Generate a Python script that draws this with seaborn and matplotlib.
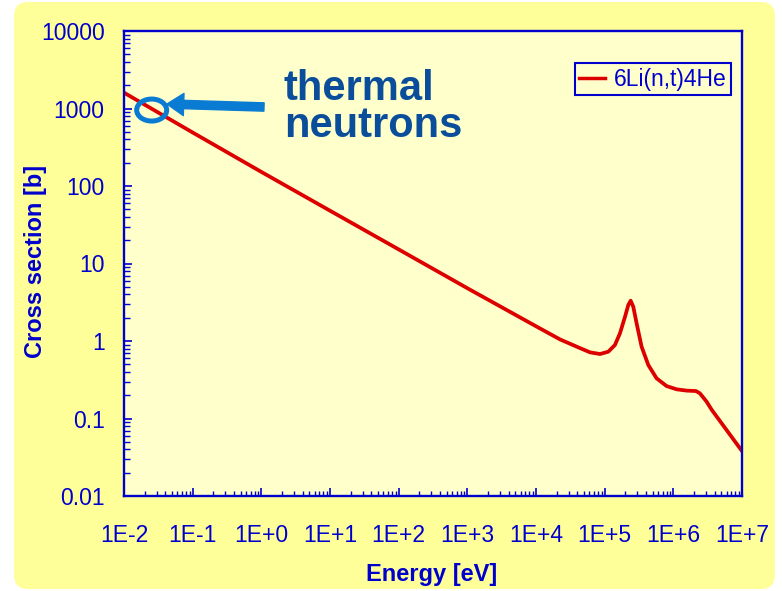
import numpy as np
import pandas as pd
import matplotlib
matplotlib.use("Agg")
import matplotlib.pyplot as plt
import matplotlib.transforms as mtransforms
from matplotlib.patches import FancyBboxPatch, Ellipse
from matplotlib.ticker import LogLocator, FixedLocator, FixedFormatter, NullFormatter
import seaborn as sns

# ---- data ----
energy_ev = [1e-2, 1e-1, 1e0, 1e1, 1e2, 1e3, 3e3, 1e4, 2.23e4, 3.91e4, 6.11e4, 8.55e4,
             1.13e5, 1.41e5, 1.67e5, 1.98e5, 2.21e5, 2.39e5, 2.61e5, 2.92e5, 3.45e5,
             4.32e5, 5.70e5, 7.98e5, 1.117e6, 1.563e6, 2.14e6, 2.44e6, 3.05e6, 3.61e6,
             5.96e6, 1.0e7]
cross_section_b = [1600, 490, 152, 48, 15.2, 4.8, 2.8, 1.55, 1.05, 0.845, 0.714, 0.679,
                   0.728, 0.887, 1.256, 2.06, 2.92, 3.31, 2.77, 1.69, 0.845,
                   0.49, 0.33, 0.262, 0.238, 0.229, 0.226, 0.211, 0.165, 0.13,
                   0.071, 0.038]
series_name = "6Li(n,t)4He"
x_tick_values = [1e-2, 1e-1, 1e0, 1e1, 1e2, 1e3, 1e4, 1e5, 1e6, 1e7]
x_tick_labels = ["1E-2", "1E-1", "1E+0", "1E+1", "1E+2", "1E+3", "1E+4", "1E+5", "1E+6", "1E+7"]
y_tick_values = [0.01, 0.1, 1, 10, 100, 1000, 10000]
y_tick_labels = ["0.01", "0.1", "1", "10", "100", "1000", "10000"]
thermal_energy = 0.0253
thermal_sigma = 955

df = pd.DataFrame({"Energy": energy_ev, "Sigma": cross_section_b, "Reaction": series_name})

plt.rcParams["font.family"] = ["Liberation Sans", "DejaVu Sans"]

BLUE = "#0000CC"
RED = "#DD0000"
W, H = 782, 591
fig = plt.figure(figsize=(W / 100, H / 100), dpi=100, facecolor="white")

# rounded yellow background box (pixel coordinates)
bg = FancyBboxPatch((14, 2), 761, 587, boxstyle="round,pad=0,rounding_size=14",
                    transform=mtransforms.IdentityTransform(),
                    facecolor="#FFFF99", edgecolor="none", zorder=-5)
fig.add_artist(bg)

ax = fig.add_axes([124 / W, 1 - 496 / H, (742 - 124) / W, (496 - 31) / H])
ax.set_facecolor("#FFFFCC")

sns.lineplot(data=df, x="Energy", y="Sigma", hue="Reaction", palette=[RED],
             estimator=None, sort=False, linewidth=2.7, ax=ax, legend=True)
ax.get_lines()[0].set_solid_joinstyle("round")

ax.set_xscale("log")
ax.set_yscale("log")
ax.set_xlim(1e-2, 1e7)
ax.set_ylim(0.01, 10000)

for s in ax.spines.values():
    s.set_color(BLUE)
    s.set_linewidth(1.7)

ax.xaxis.set_major_locator(FixedLocator(x_tick_values))
ax.xaxis.set_major_formatter(FixedFormatter(x_tick_labels))
ax.yaxis.set_major_locator(FixedLocator(y_tick_values))
ax.yaxis.set_major_formatter(FixedFormatter(y_tick_labels))
ax.xaxis.set_minor_locator(LogLocator(base=10, subs=np.arange(2, 10), numticks=20))
ax.yaxis.set_minor_locator(LogLocator(base=10, subs=np.arange(2, 10), numticks=20))
ax.xaxis.set_minor_formatter(NullFormatter())
ax.yaxis.set_minor_formatter(NullFormatter())

ax.tick_params(axis="both", which="major", direction="in", length=5.5, width=1.2,
               color=BLUE, labelcolor=BLUE, labelsize=16.5)
ax.tick_params(axis="x", which="minor", direction="in", length=3.6, width=1.0, color=BLUE)
ax.tick_params(axis="y", which="minor", direction="in", length=4.5, width=1.0, color=BLUE)
ax.tick_params(axis="x", which="major", pad=20)
ax.tick_params(axis="y", which="major", pad=14)
ax.tick_params(top=False, right=False, which="both")

ax.set_xlabel("Energy [eV]", fontsize=17, fontweight="bold", color=BLUE)
ax.set_ylabel("Cross section [b]", fontsize=17, fontweight="bold", color=BLUE)
ax.xaxis.set_label_coords((432 - 124) / 618, -(563 - 496) / 465)
ax.yaxis.set_label_coords((47 - 124) / 618, 1 - (261 - 31) / 465)

leg = ax.legend(loc="upper right", bbox_to_anchor=((731 - 124) / 618, 1 - (63 - 31) / 465),
                borderaxespad=0, frameon=True, fancybox=False, fontsize=16.5,
                handlelength=1.1, handletextpad=0.4, borderpad=0.2, title=None)
leg.get_frame().set_edgecolor(BLUE)
leg.get_frame().set_linewidth(1.5)
leg.get_frame().set_facecolor("#FFFFCC")
leg.get_frame().set_alpha(1)
for t in leg.get_texts():
    t.set_color(BLUE)
for h in leg.get_lines():
    h.set_linewidth(2.5)

# thermal-neutron annotation
ANN = "#0A7BD2"
cx, cy = ax.transAxes.inverted().transform(ax.transData.transform((thermal_energy, thermal_sigma)))
ell = Ellipse((cx, cy), width=30 / 618, height=22 / 465, transform=ax.transAxes,
              facecolor="none", edgecolor=ANN, linewidth=3.6, zorder=5)
ax.add_patch(ell)

ax.annotate("", xy=(167, H - 104), xycoords="figure pixels",
            xytext=(264, H - 107), textcoords="figure pixels",
            arrowprops=dict(arrowstyle="simple,head_length=1.2,head_width=1.6,tail_width=0.6",
                            mutation_scale=10, facecolor=ANN, edgecolor=ANN,
                            shrinkA=0, shrinkB=0), zorder=5)

fig.text(284 / W, 1 - 100 / H, "thermal", fontsize=30, fontweight="bold",
         color="#0A4E9B", ha="left", va="baseline")
fig.text(284 / W, 1 - 137 / H, "neutrons", fontsize=30, fontweight="bold",
         color="#0A4E9B", ha="left", va="baseline")

fig.savefig("out.png", dpi=100, facecolor="white")
